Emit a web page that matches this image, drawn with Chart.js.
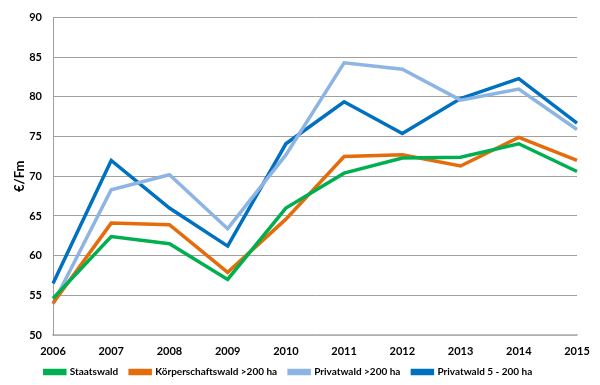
<!DOCTYPE html>
<html>
<head>
<meta charset="utf-8">
<script src="https://cdn.jsdelivr.net/npm/chart.js@4/dist/chart.umd.min.js"></script>
<style>
html,body{margin:0;padding:0;background:#fff;}
#wrap{width:600px;height:385px;position:relative;}
</style>
</head>
<body>
<div id="wrap"><canvas id="c" width="600" height="385"></canvas></div>
<script>
const years = ['2006','2007','2008','2009','2010','2011','2012','2013','2014','2015'];
const staatswald = [54.6, 62.4, 61.5, 57.0, 66.0, 70.4, 72.3, 72.4, 74.1, 70.6];
const koerperschaftswald = [54.0, 64.1, 63.9, 57.9, 64.6, 72.5, 72.7, 71.3, 74.9, 72.0];
const privatwaldGross = [53.9, 68.3, 70.2, 63.4, 72.7, 84.3, 83.5, 79.6, 81.0, 75.9];
const privatwaldKlein = [56.5, 72.0, 66.0, 61.2, 74.1, 79.4, 75.4, 79.8, 82.3, 76.7];
const seriesNames = ['Staatswald', 'Körperschaftswald >200 ha', 'Privatwald >200 ha', 'Privatwald 5 - 200 ha'];
const yTitle = '€/Fm';

const colors = ['#00B050', '#E46C0A', '#8DB4E2', '#0070C0'];
const values = [staatswald, koerperschaftswald, privatwaldGross, privatwaldKlein];
const fontFam = 'Lato, "Liberation Sans", sans-serif';

const datasets = values.map((v, i) => ({
  label: seriesNames[i],
  data: v,
  borderColor: colors[i],
  backgroundColor: colors[i],
  borderWidth: 3.5,
  pointRadius: 0,
  tension: 0,
  fill: false
}));

const legendFix = {
  id: 'legendFix',
  beforeLayout(chart) {
    const lg = chart.legend;
    if (lg && !lg._patched) {
      const orig = lg.fit;
      lg.fit = function () { orig.call(this); this.height = 26; };
      lg._patched = true;
    }
  },
  afterLayout(chart) {
    if (chart.legend) {
      chart.legend.top -= 4;
      chart.legend.bottom -= 4;
    }
  }
};

new Chart(document.getElementById('c'), {
  type: 'line',
  data: { labels: years, datasets: datasets },
  plugins: [legendFix],
  options: {
    responsive: false,
    animation: false,
    layout: { padding: { left: 0, right: 23, top: 11, bottom: 0 } },
    plugins: {
      legend: {
        position: 'bottom',
        labels: {
          boxWidth: 20,
          boxHeight: 3,
          padding: 12,
          color: '#000',
          font: { family: fontFam, size: 10, weight: 'bold' }
        }
      },
      tooltip: { enabled: false }
    },
    scales: {
      x: {
        offset: false,
        grid: { display: false, drawTicks: false },
        border: { color: '#bfbfbf', width: 1.5 },
        ticks: { color: '#000', padding: 10, maxRotation: 0, font: { family: fontFam, size: 11, weight: 'bold' } },
        afterFit: s => { s.height = 24; }
      },
      y: {
        min: 50, max: 90,
        grid: { color: '#a0a0a0', lineWidth: 1, drawTicks: false },
        border: { color: '#a0a0a0', width: 1 },
        ticks: { stepSize: 5, color: '#000', padding: 11, font: { family: fontFam, size: 11, weight: 'bold' } },
        title: { display: true, text: yTitle, color: '#000', padding: { top: 12, bottom: 4 }, font: { family: fontFam, size: 13, weight: 'bold' } },
        afterFit: s => { s.width = 53; }
      }
    }
  }
});
</script>
</body>
</html>
